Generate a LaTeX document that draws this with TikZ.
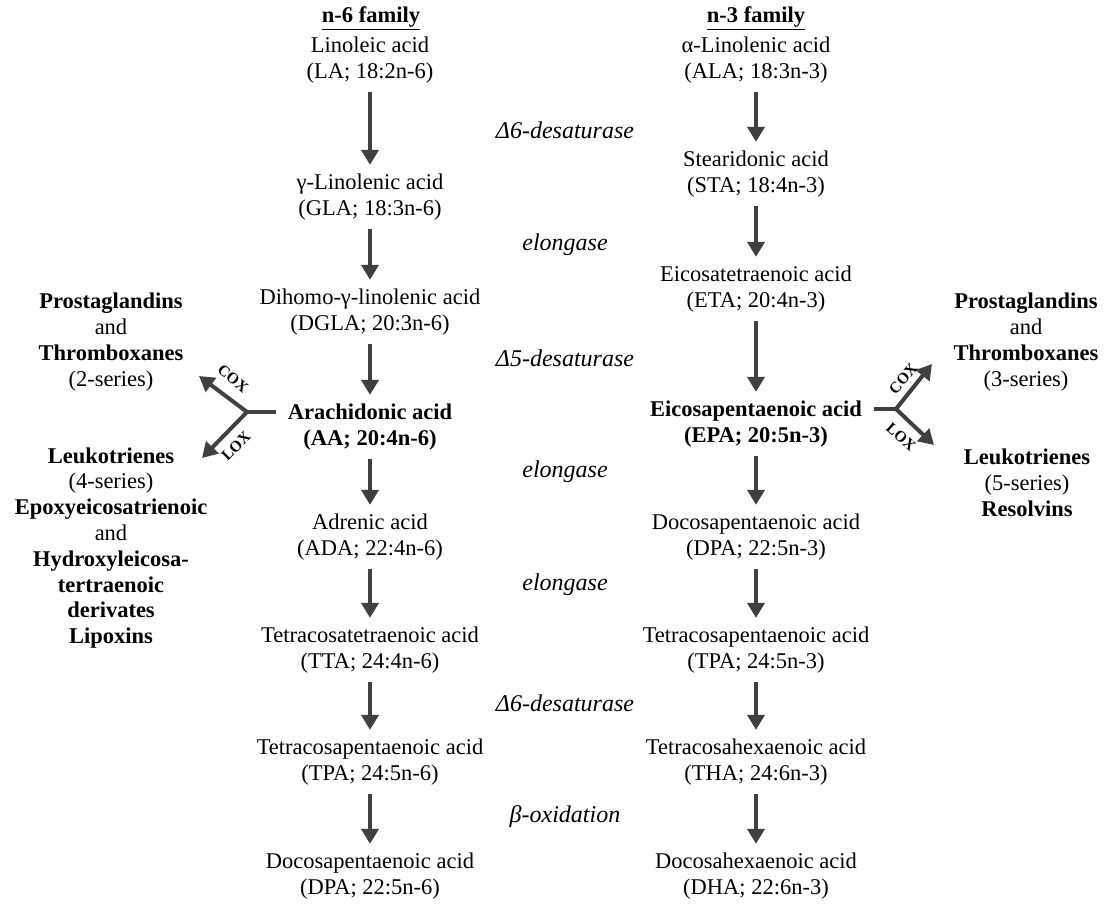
\documentclass[tikz,border=0pt]{standalone}
\usepackage{fontspec}
\setmainfont{Liberation Serif}
\usetikzlibrary{arrows.meta}
\definecolor{arrowgray}{HTML}{404040}
\begin{document}
\begin{tikzpicture}[x=1pt,y=-1pt,
  >={Triangle[length=15pt,width=17pt]},
  acid/.style={align=center, inner sep=0pt, font=\fontsize{22.5}{25.5}\selectfont},
  enzyme/.style={inner sep=0pt, font=\fontsize{24}{26}\selectfont\itshape},
  product/.style={align=center, inner sep=0pt, font=\fontsize{22.5}{25.8}\selectfont},
  convert/.style={->, draw=arrowgray, line width=4pt, shorten <=9pt, shorten >=9pt},
  branch/.style={draw=arrowgray, line width=4pt},
  tag/.style={inner sep=0pt, font=\fontsize{15.5}{15.5}\selectfont\bfseries}]
\useasboundingbox (0,0) rectangle (1109,909);

% headings
\node[acid, font=\fontsize{22.5}{25.5}\selectfont\bfseries] (n6) at (371,18) {\underline{n-6 family}};
\node[acid, font=\fontsize{22.5}{25.5}\selectfont\bfseries] (n3) at (756,18) {\underline{n-3 family}};

% n-6 family
\node[acid] (la) at (370,60) {Linoleic acid\\(LA; 18:2n-6)};
\node[acid] (gla) at (370,197) {γ-Linolenic acid\\(GLA; 18:3n-6)};
\node[acid] (dgla) at (370,312) {Dihomo-γ-linolenic acid\\(DGLA; 20:3n-6)};
\node[acid, font=\fontsize{22.5}{25.5}\selectfont\bfseries] (aa) at (370,427) {Arachidonic acid\\(AA; 20:4n-6)};
\node[acid] (ada) at (370,537) {Adrenic acid\\(ADA; 22:4n-6)};
\node[acid] (tta) at (370,650) {Tetracosatetraenoic acid\\(TTA; 24:4n-6)};
\node[acid] (tpa6) at (370,762) {Tetracosapentaenoic acid\\(TPA; 24:5n-6)};
\node[acid] (dpa6) at (370,876) {Docosapentaenoic acid\\(DPA; 22:5n-6)};

% n-3 family
\node[acid] (ala) at (756,60) {α-Linolenic acid\\(ALA; 18:3n-3)};
\node[acid] (sta) at (756,174) {Stearidonic acid\\(STA; 18:4n-3)};
\node[acid] (eta) at (756,289) {Eicosatetraenoic acid\\(ETA; 20:4n-3)};
\node[acid, font=\fontsize{22.5}{25.5}\selectfont\bfseries] (epa) at (756,424) {Eicosapentaenoic acid\\(EPA; 20:5n-3)};
\node[acid] (dpa3) at (756,537) {Docosapentaenoic acid\\(DPA; 22:5n-3)};
\node[acid] (tpa3) at (756,650) {Tetracosapentaenoic acid\\(TPA; 24:5n-3)};
\node[acid] (tha) at (756,762) {Tetracosahexaenoic acid\\(THA; 24:6n-3)};
\node[acid] (dha) at (756,876) {Docosahexaenoic acid\\(DHA; 22:6n-3)};

% enzymes
\node[enzyme] (e1) at (565,130) {Δ6-desaturase};
\node[enzyme] (e2) at (565,245) {elongase};
\node[enzyme] (e3) at (565,358) {Δ5-desaturase};
\node[enzyme] (e4) at (565,472) {elongase};
\node[enzyme] (e5) at (565,585) {elongase};
\node[enzyme] (e6) at (565,703) {Δ6-desaturase};
\node[enzyme] (e7) at (565,817) {β-oxidation};

\draw[convert] (la) -- (gla);
\draw[convert] (gla) -- (dgla);
\draw[convert] (dgla) -- (aa);
\draw[convert] (aa) -- (ada);
\draw[convert] (ada) -- (tta);
\draw[convert] (tta) -- (tpa6);
\draw[convert] (tpa6) -- (dpa6);

\draw[convert] (ala) -- (sta);
\draw[convert] (sta) -- (eta);
\draw[convert] (eta) -- (epa);
\draw[convert] (epa) -- (dpa3);
\draw[convert] (dpa3) -- (tpa3);
\draw[convert] (tpa3) -- (tha);
\draw[convert] (tha) -- (dha);

% eicosanoids from AA
\node[product] (pg2) at (111,342) {\textbf{Prostaglandins}\\and\\\textbf{Thromboxanes}\\(2-series)};
\node[product] (lt4) at (111,548) {\textbf{Leukotrienes}\\(4-series)\\\textbf{Epoxyeicosatrienoic}\\and\\\textbf{Hydroxyleicosa-}\\\textbf{tertraenoic}\\\textbf{derivates}\\\textbf{Lipoxins}};
\coordinate (ljun) at (247,412);
\coordinate (lcox) at (199,376);
\coordinate (llox) at (202,458);
\draw[branch] ([xshift=-12pt]aa.west |- ljun) -- (ljun);
\draw[branch, ->] (ljun) -- (lcox);
\draw[branch, ->] (ljun) -- (llox);
\node[tag, rotate=-40] (lcoxt) at (233,379) {COX};
\node[tag, rotate=45] (lloxt) at (236,446) {LOX};

% eicosanoids from EPA
\node[product] (pg3) at (1026,342) {\textbf{Prostaglandins}\\and\\\textbf{Thromboxanes}\\(3-series)};
\node[product] (lt5) at (1027,483) {\textbf{Leukotrienes}\\(5-series)\\\textbf{Resolvins}};
\coordinate (rjun) at (896,409);
\coordinate (rcox) at (932,364);
\coordinate (rlox) at (934,445);
\draw[branch] ([xshift=12pt]epa.east |- rjun) -- (rjun);
\draw[branch, ->] (rjun) -- (rcox);
\draw[branch, ->] (rjun) -- (rlox);
\node[tag, rotate=50] (rcoxt) at (903,379) {COX};
\node[tag, rotate=-42] (rloxt) at (901,437) {LOX};
\end{tikzpicture}
\end{document}
